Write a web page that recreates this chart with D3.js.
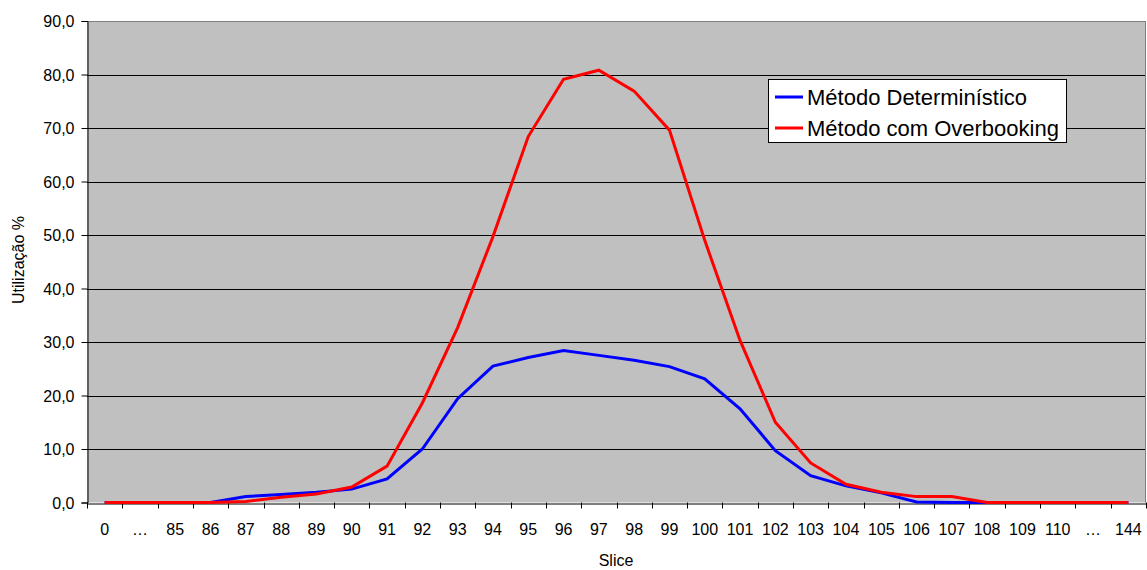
<!DOCTYPE html>
<html><head><meta charset="utf-8">
<script src="https://cdn.jsdelivr.net/npm/d3@7"></script>
<style>body{margin:0;background:#fff}svg{display:block;font-family:"Liberation Sans",Arial,sans-serif}</style>
</head><body>
<svg id="c" width="1147" height="570"></svg>
<script>
const categories = ["0","…","85","86","87","88","89","90","91","92","93","94","95","96","97","98","99","100","101","102","103","104","105","106","107","108","109","110","…","144"];
const deterministico = [0,0,0,0,1.1,1.5,1.9,2.5,4.4,10.0,19.4,25.5,27.1,28.4,27.5,26.6,25.4,23.1,17.5,9.7,5.0,3.1,1.8,0.1,0,0,0,0,0,0];
const overbooking   = [0,0,0,0,0.2,1.0,1.6,2.9,6.8,18.6,32.7,49.7,68.4,79.1,80.8,76.9,69.6,49.0,30.3,15.0,7.4,3.4,1.9,1.1,1.1,0,0,0,0,0];
const yTicks = [0,10,20,30,40,50,60,70,80,90];
const seriesNames = ["Método Determinístico","Método com Overbooking"];
const colors = ["#0000ff","#ff0000"];

const svg = d3.select("#c");
const m = {left:87, right:1146, top:21, bottom:502.5};
const keys = categories.map((c,i)=>i);
const x = d3.scaleBand().domain(keys).range([m.left, m.right]);
const y = d3.scaleLinear().domain([0,90]).range([m.bottom, m.top]);

svg.append("rect").attr("x",m.left).attr("y",m.top).attr("width",m.right-m.left).attr("height",m.bottom-m.top).attr("fill","#c0c0c0");

// gridlines
svg.append("g").selectAll("line").data(yTicks.filter(d=>d>0)).join("line")
  .attr("x1",m.left).attr("x2",m.right).attr("y1",d=>Math.round(y(d))+0.5).attr("y2",d=>Math.round(y(d))+0.5)
  .attr("stroke",d=>d===90?"#808080":"#000").attr("stroke-width",1);
svg.append("line").attr("x1",m.right-0.5).attr("x2",m.right-0.5).attr("y1",m.top).attr("y2",m.bottom).attr("stroke","#808080");

// y axis
const ya = svg.append("g").attr("transform",`translate(${m.left+0.5},0)`)
  .call(d3.axisLeft(y).tickValues(yTicks).tickSize(6).tickFormat(d=>d3.format(".1f")(d).replace(".",",")));
ya.select(".domain").attr("stroke","#000");
ya.selectAll("text").attr("font-size","16px").attr("fill","#000").attr("x",-13).attr("dy","0.35em").attr("font-family","Liberation Sans, Arial, sans-serif");

// x axis
const xa = svg.append("g").attr("transform",`translate(0,${Math.round(m.bottom)+0.5})`)
  .call(d3.axisBottom(x).tickFormat(i=>categories[i]).tickSize(0));
xa.select(".domain").attr("stroke","#000");
xa.selectAll("text").attr("font-size","16px").attr("fill","#000").attr("y",20).attr("dy","0.71em").attr("font-family","Liberation Sans, Arial, sans-serif");
// boundary ticks
svg.append("g").selectAll("line").data(d3.range(categories.length+1)).join("line")
  .attr("x1",i=>Math.round(m.left + i*x.step())+0.5).attr("x2",i=>Math.round(m.left + i*x.step())+0.5)
  .attr("y1",m.bottom).attr("y2",m.bottom+6).attr("stroke","#000");

// lines
const line = d3.line().x((d,i)=>x(i)+x.bandwidth()/2).y(d=>y(d));
[deterministico, overbooking].forEach((s,k)=>{
  svg.append("path").datum(s).attr("d",line).attr("fill","none").attr("stroke",colors[k]).attr("stroke-width",3).attr("stroke-linejoin","miter");
});

// axis titles
svg.append("text").attr("x",616).attr("y",566).attr("text-anchor","middle").attr("font-size","16px").text("Slice");
svg.append("text").attr("transform","translate(24,260) rotate(-90)").attr("text-anchor","middle").attr("font-size","16px").text("Utilização %");

// legend
const lg = svg.append("g");
lg.append("rect").attr("x",768.5).attr("y",79.5).attr("width",298).attr("height",63).attr("fill","#fff").attr("stroke","#000");
seriesNames.forEach((n,k)=>{
  const yy = 97 + k*31;
  lg.append("line").attr("x1",775).attr("x2",803).attr("y1",yy).attr("y2",yy).attr("stroke",colors[k]).attr("stroke-width",3);
  lg.append("text").attr("x",807).attr("y",yy).attr("dy","0.35em").attr("font-size","22px").text(n);
});
</script>
</body></html>
